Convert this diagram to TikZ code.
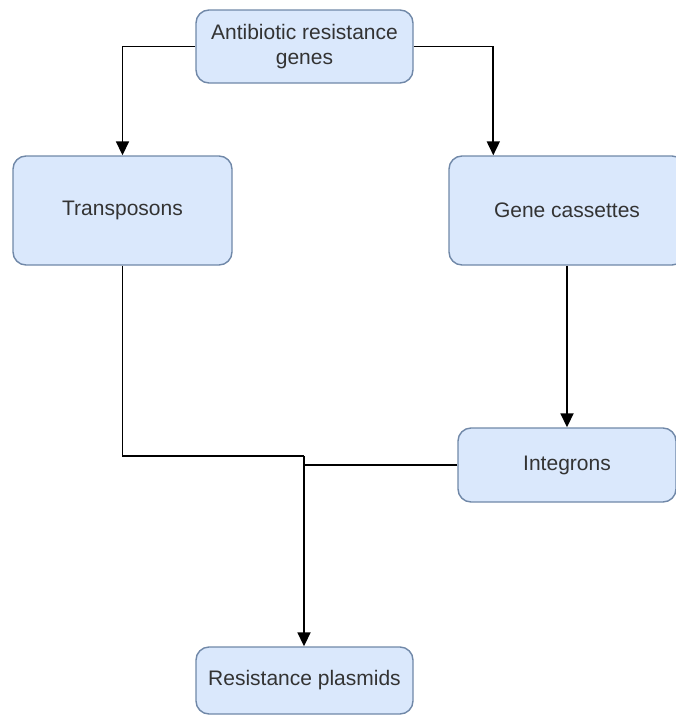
\documentclass[tikz,border=0pt]{standalone}
\usepackage{fontspec}
\setmainfont{Liberation Sans}
\usetikzlibrary{arrows.meta,calc}
\definecolor{boxfill}{HTML}{DAE8FC}
\definecolor{boxline}{HTML}{7088A8}
\definecolor{txt}{HTML}{333333}
\begin{document}
\begin{tikzpicture}[x=1pt,y=-1pt,
  box/.style={draw=boxline,fill=boxfill,line width=1.4pt,rounded corners=13pt,
    text=txt,font=\fontsize{21}{25}\selectfont,align=center,inner sep=0pt},
  link/.style={draw=black,line width=1.8pt,line join=miter},
  arr/.style={link,-{Triangle[width=13pt,length=14pt]}}]
\useasboundingbox (0,0) rectangle (675,715);
\node[box,minimum width=217pt,minimum height=73pt] (top) at (304.5,46.5) {Antibiotic resistance\\genes};
\node[box,minimum width=219pt,minimum height=109pt] (trans) at (122.5,210.5) {Transposons};
\node[box,minimum width=236pt,minimum height=109pt] (gene) at (567,210.5) {Gene cassettes};
\node[box,minimum width=218pt,minimum height=74pt] (integ) at (567,465) {Integrons};
\node[box,minimum width=217pt,minimum height=67pt] (plas) at (304.5,680.5) {Resistance plasmids};
\coordinate (j) at (304,456);
\draw[arr] (top.west) -| (trans.north);
\draw[arr] (top.east) -| ([xshift=45pt]gene.north west);
\draw[arr] (gene.south) -- (integ.north);
\draw[link] (trans.south) |- (j);
\draw[link] (integ.west) -- (integ.west -| j);
\draw[arr] (j) -- (j |- plas.north);
\end{tikzpicture}
\end{document}
